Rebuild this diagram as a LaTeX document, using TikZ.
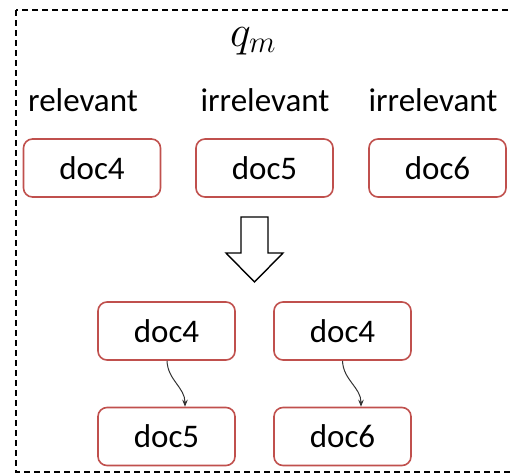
\documentclass[tikz,border=0pt]{standalone}
\usepackage{fix-cm}
\usepackage{fontspec}
\setmainfont{Carlito}
\usetikzlibrary{arrows.meta}
\definecolor{docred}{RGB}{192,80,77}

\begin{document}
\begin{tikzpicture}[x=1pt,y=-1pt,
    docbox/.style={draw=docred,line width=1.6pt,rounded corners=9pt,
      minimum width=137pt,minimum height=58pt,inner sep=0pt,
      font=\fontsize{33}{38}\selectfont},
    lbl/.style={inner sep=0pt,font=\fontsize{33}{38}\selectfont},
    link/.style={draw=black!80,line width=1pt,-{Stealth[length=7pt,width=5.5pt]}}]
    \useasboundingbox (0,0) rectangle (512,474);
    \clip (0,0) rectangle (512,474);
    % Frame
    \draw[dashed,line width=1.3pt,dash pattern=on 6pt off 4pt] (16,10) rectangle (530,472);
    % Query and labels
    \node[inner sep=0pt,font=\fontsize{44}{48}\selectfont] (q) at (253,41) {$q_m$};
    \node[lbl] (rel) at (83,100) {relevant};
    \node[lbl] (irr5) at (265,100) {irrelevant};
    \node[lbl] (irr6) at (433,100) {irrelevant};
    % Documents
    \node[docbox] (d4) at (92,168) {doc4};
    \node[docbox] (d5) at (264.5,168) {doc5};
    \node[docbox] (d6) at (437.5,168) {doc6};
    % Hollow arrow
    \draw[line width=1.4pt,fill=white] (241,217) -- (268,217) -- (268,253) -- (283,253)
      -- (254.5,282) -- (226,253) -- (241,253) -- cycle;
    % Pairs
    \node[docbox] (p4a) at (166.5,331) {doc4};
    \node[docbox] (p5) at (166.5,436.5) {doc5};
    \node[docbox] (p4b) at (342.5,331) {doc4};
    \node[docbox] (p6) at (342.5,436.5) {doc6};
    \draw[link] ([xshift=0.5pt]p4a.south) to[out=-88,in=90] ([xshift=18.5pt]p5.north);
    \draw[link] (p4b.south) to[out=-88,in=90] ([xshift=18.5pt]p6.north);
\end{tikzpicture}
\end{document}
